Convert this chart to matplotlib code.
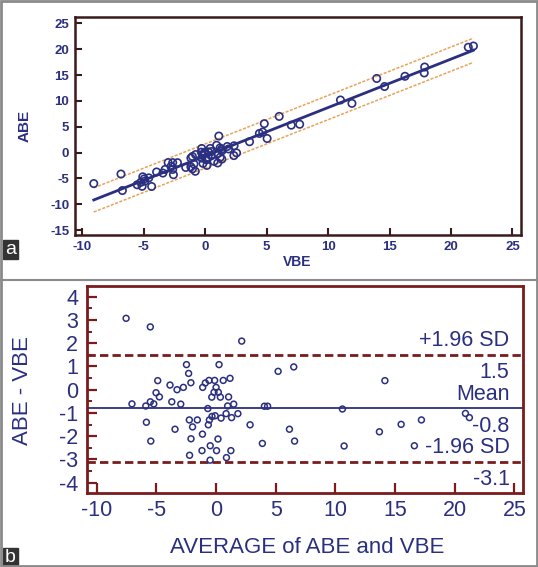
import numpy as np
import matplotlib.pyplot as plt
from matplotlib.ticker import MultipleLocator
from matplotlib.patches import Rectangle
from matplotlib.lines import Line2D

plt.rcParams['font.family'] = ['Liberation Sans', 'DejaVu Sans']
plt.rcParams['axes.unicode_minus'] = False

# Bland-Altman points (panel b): mean of the two methods and ABE - VBE
avg = np.array([-7.54, -7.05, -5.89, -5.84, -5.51, -5.51, -5.47, -5.22, -5.03, -4.89,
                -4.75, -3.86, -3.71, -3.44, -3.27, -2.96, -2.74, -2.48, -2.30, -2.11,
                -2.24, -1.97, -2.10, -2.22, -1.57, -1.14, -1.18, -1.12, -0.90, -0.59,
                -0.12, 0.00, -0.17, 0.19, -0.36, 0.36, 1.05, 0.25, 0.60, 1.17,
                -0.69, 0.97, 1.48, -0.56, -0.34, -0.08, -0.65, 0.42, 0.84, 1.30,
                1.83, -0.49, 0.16, 0.04, 1.24, -0.50, 0.87, 2.15, 2.85, 3.88,
                4.05, 4.32, 5.20, 6.51, 6.15, 6.58, 10.59, 10.73, 13.69, 14.15,
                15.51, 16.62, 17.21, 20.90, 21.23])
diff = np.array([3.07, -0.61, -0.70, -1.40, 2.70, -0.52, -2.21, -0.61, -0.13, 0.39,
                 -0.31, 0.20, -0.52, -1.70, 0.00, -0.62, 0.10, 1.08, 0.70, 0.30,
                 -1.30, -1.60, -2.11, -2.82, -1.30, -1.91, -2.62, 0.10, 0.29, 0.40,
                 0.40, 0.10, -0.11, -0.11, -0.32, -0.32, -0.31, 1.08, 0.40, 0.49,
                 -0.81, -0.70, -0.62, -1.30, -1.15, -1.12, -1.51, -1.22, -1.03, -1.20,
                 -1.03, -2.41, -2.12, -2.62, -2.62, -3.03, -2.92, 2.09, -1.51, -2.31,
                 -0.71, -0.71, 0.79, 0.98, -1.70, -2.21, -0.83, -2.42, -1.81, 0.39,
                 -1.49, -2.41, -1.30, -1.02, -1.20])

# same patients for the scatter plot (panel a)
vbe = avg - diff / 2
abe = avg + diff / 2

mean_diff = -0.8
upper_loa = 1.5
lower_loa = -3.1

navy = '#2b2f80'
maroon = '#7a1c1c'
orange = '#e8a35a'

fig = plt.figure(figsize=(5.38, 5.67), dpi=100)

# ---------------- panel a ----------------
ax1 = fig.add_axes([0.139, 0.5855, 0.8287, 0.385])
slope, intercept = np.polyfit(vbe, abe, 1)
resid = abe - (slope * vbe + intercept)
band = 1.96 * np.std(resid, ddof=1)
xs = np.array([vbe.min(), vbe.max()])
ax1.plot(xs, slope * xs + intercept, color=navy, lw=2)
ax1.plot(xs, slope * xs + intercept + band, color=orange, lw=1.1, ls=(0, (2, 1)))
ax1.plot(xs, slope * xs + intercept - band, color=orange, lw=1.1, ls=(0, (2, 1)))
ax1.scatter(vbe, abe, s=28, facecolors='none', edgecolors=navy, linewidths=1.2, zorder=3)

ax1.set_xlim(-10.62, 25.67)
ax1.set_ylim(-15.97, 26.3)
ax1.xaxis.set_major_locator(MultipleLocator(5))
ax1.yaxis.set_major_locator(MultipleLocator(5))
ax1.tick_params(direction='in', length=5, width=1.5, color='#3a1a1a', pad=4,
                labelsize=9.5, labelcolor=navy)
for lab in ax1.get_xticklabels() + ax1.get_yticklabels():
    lab.set_fontweight('bold')
for sp in ax1.spines.values():
    sp.set_color('#3a1a1a')
    sp.set_linewidth(1.8)
ax1.set_xlabel('VBE', fontsize=10, fontweight='bold', color=navy, va='center')
ax1.set_ylabel('ABE', fontsize=11, fontweight='bold', color=navy, va='center')
ax1.xaxis.set_label_coords(0.498, -0.124)
ax1.yaxis.set_label_coords(-0.112, 0.5)

# ---------------- panel b ----------------
ax2 = fig.add_axes([0.1623, 0.131, 0.8093, 0.3646])
ax2.axhline(mean_diff, color=navy, lw=1.3)
ax2.axhline(upper_loa, color=maroon, lw=2, ls=(0, (3, 1.5)))
ax2.axhline(lower_loa, color=maroon, lw=2, ls=(0, (3, 1.5)))
ax2.scatter(avg, diff, s=18, facecolors='none', edgecolors=navy, linewidths=1.1, zorder=3)

ax2.set_xlim(-10.79, 25.7)
ax2.set_ylim(-4.43, 4.46)
ax2.xaxis.set_major_locator(MultipleLocator(5))
ax2.yaxis.set_major_locator(MultipleLocator(1))
ax2.yaxis.set_minor_locator(MultipleLocator(0.5))
ax2.tick_params(which='major', direction='in', length=7, width=1.6, color=maroon,
                labelsize=15.5, labelcolor=navy)
ax2.tick_params(which='minor', direction='in', length=3.5, width=1.4, color=maroon)
ax2.tick_params(axis='y', pad=6.5)
ax2.tick_params(axis='x', pad=5)
for sp in ax2.spines.values():
    sp.set_color(maroon)
    sp.set_linewidth(2)
ax2.set_xlabel('AVERAGE of ABE and VBE', fontsize=16, color=navy, va='center')
ax2.set_ylabel('ABE - VBE', fontsize=16, color=navy, va='center')
ax2.xaxis.set_label_coords(0.504, -0.263)
ax2.yaxis.set_label_coords(-0.149, 0.493)

right_x = 24.6
labels = [(upper_loa, '+1.96 SD', '1.5'),
          (mean_diff, 'Mean', '-0.8'),
          (lower_loa, '-1.96 SD', '-3.1')]
for yv, top_txt, bot_txt in labels:
    ax2.annotate(top_txt, (right_x, yv), xytext=(0, 14), textcoords='offset pixels',
                 ha='right', va='center', fontsize=15.5, color=navy)
    ax2.annotate(bot_txt, (right_x, yv), xytext=(0, -18), textcoords='offset pixels',
                 ha='right', va='center', fontsize=15.5, color=navy)

# panel letters, border and divider
W, H = 538.0, 567.0
for letter, ytop in [('a', 240), ('b', 548)]:
    fig.patches.append(Rectangle((3 / W, 1 - (ytop + 19) / H), 15 / W, 19 / H,
                                 transform=fig.transFigure, color='#333333'))
    fig.text(10.5 / W, 1 - (ytop + 10) / H, letter, color='white', fontsize=14,
             ha='center', va='center')
fig.lines.append(Line2D([0, 1], [1 - 280 / H, 1 - 280 / H], transform=fig.transFigure,
                        color='#8a8a8a', lw=1.5))
fig.patches.append(Rectangle((0.001, 0.001), 0.998, 0.998, transform=fig.transFigure,
                             fill=False, edgecolor='#8a8a8a', lw=2))

fig.savefig('out.png', dpi=100)
